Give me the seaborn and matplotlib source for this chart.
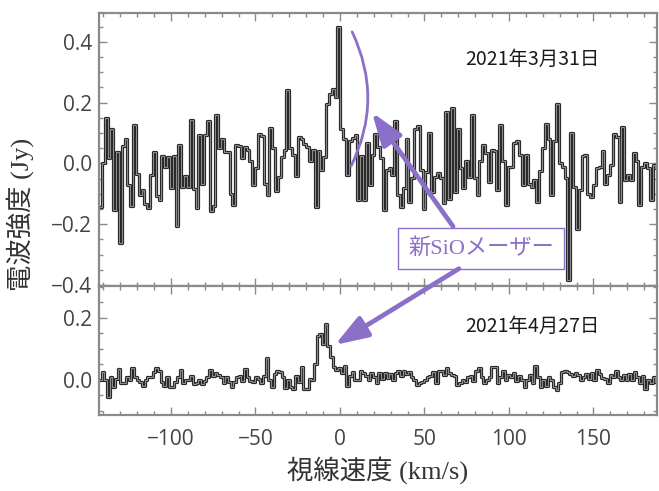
import numpy as np
import pandas as pd
import seaborn as sns
import matplotlib
matplotlib.use('Agg')
import matplotlib.pyplot as plt
import matplotlib.patheffects as pe
from matplotlib.ticker import MultipleLocator

# 2021-03-31 spectrum (Jy), regular channels starting at v0
v0_mar, dv_mar = -142.6, 1.68
flux_mar = [
    -0.143, 0.001, 0.151, 0.018, 0.112, -0.152, 0.037, -0.260, 0.057, 0.079,
    -0.071, -0.141, 0.127, -0.034, -0.104, -0.086, -0.132, -0.146, -0.038, 0.037,
    -0.107, -0.121, 0.026, -0.013, 0.020, -0.082, 0.026, -0.207, 0.060, -0.077,
    -0.041, -0.077, 0.143, -0.084, -0.146, 0.093, -0.069, 0.093, 0.140, -0.157,
    -0.140, 0.160, 0.051, 0.081, 0.037, 0.037, -0.099, -0.138,
    0.062, 0.057, 0.018, 0.053, 0.046, 0.007, -0.071, -0.016, 0.098, 0.090,
    -0.066, -0.104, 0.118, 0.051, -0.091, -0.043, 0.020, 0.046, 0.242, 0.051,
    0.029, -0.040, 0.088, 0.079, 0.064, 0.053, 0.007, 0.046, -0.143, 0.040,
    -0.021, 0.020, 0.196, 0.229, 0.246, 0.218, 0.449, 0.112, 0.082, -0.038,
    0.073, 0.084, 0.093, -0.121, 0.023, -0.121, 0.066, -0.071,
    0.029, 0.096, 0.053, 0.018, -0.154, -0.021, -0.016, -0.038, 0.140, -0.104,
    -0.143, -0.082, 0.079, -0.127, -0.049, 0.112, 0.123, -0.021, -0.149, -0.027,
    0.101, -0.093, -0.043, -0.032, -0.049, -0.130, 0.168, -0.116, 0.182, -0.093,
    0.112, -0.016, -0.082, 0.007, -0.043, 0.159, -0.049, -0.104, 0.007, 0.062,
    0.034, -0.060, 0.046, 0.040, -0.088, 0.127, 0.007,
    -0.138, -0.010, -0.010, 0.068, 0.073, 0.029, -0.071, 0.029, -0.069, -0.077,
    -0.054, -0.127, -0.024, 0.051, 0.129, 0.079, -0.104, 0.073, 0.196, 0.001,
    -0.010, -0.049, -0.382, 0.101, -0.077, -0.216, -0.088, 0.023, 0.029, -0.099,
    -0.110, -0.071, -0.016, -0.010, 0.040, -0.066, -0.038, -0.004, 0.096, 0.087,
    -0.127, 0.120, -0.054, -0.038, -0.054, 0.034, 0.009, -0.138, -0.010, 0.001,
    -0.016, -0.121, -0.004, -0.016,
]

# 2021-04-27 spectrum (Jy)
v0_apr, dv_apr = -142.6, 1.59
flux_apr = [
    0.000, 0.027, 0.000, -0.054, 0.011, -0.022, 0.002, 0.034, -0.009, -0.009,
    0.009, 0.000, 0.038, 0.011, 0.000, -0.005, -0.019, 0.000, 0.009, 0.009,
    0.027, 0.038, 0.030, -0.005, -0.019, 0.011, -0.024, -0.024, -0.005, 0.009,
    0.032, -0.011, 0.000, 0.000, 0.013, -0.013, -0.009, 0.000, -0.013, -0.002,
    0.011, 0.032, 0.013, 0.022, 0.016, 0.009, -0.009, 0.009, -0.005, -0.024,
    -0.005, 0.009, 0.013, -0.002, 0.034, 0.011, -0.002, -0.005, 0.009, 0.002,
    -0.009, 0.013, 0.070, 0.000, -0.024, 0.019, 0.030, 0.027, 0.009, -0.027,
    0.000, -0.024, -0.030, 0.013, -0.005, 0.043, -0.030, -0.030, 0.002, 0.000,
    0.052, 0.142, 0.148, 0.116, 0.181, 0.108, 0.073, 0.043, 0.032, 0.038,
    0.022, 0.045, -0.019, 0.013, 0.027, 0.000, 0.000, 0.030, 0.024, 0.013,
    0.000, 0.024, 0.009, -0.009,
    0.024, 0.002, 0.024, 0.005, 0.019, 0.000, 0.022, 0.030, 0.013, 0.030,
    0.019, 0.027, 0.009, 0.000, -0.016, -0.011, -0.005, 0.000, 0.009, 0.013,
    0.027, -0.009, 0.030, 0.030, 0.016, 0.038, 0.022, 0.016, 0.013, -0.016,
    -0.011, 0.000, -0.005, 0.009, 0.013, -0.002, 0.030, 0.038, 0.011, -0.009,
    0.000, 0.011, 0.043, 0.041, -0.011, 0.009, 0.030, 0.000, 0.016, 0.011,
    0.024, -0.002, 0.013, 0.000, -0.024, 0.000, 0.016, -0.011, 0.045, 0.011,
    -0.024, 0.000, -0.019, 0.011, 0.000, -0.024, -0.032, -0.011, 0.027, 0.030,
    0.027, 0.019, 0.013, 0.024, 0.016, 0.000, 0.009, 0.019, 0.002, 0.024,
    0.000, 0.032, 0.019, 0.005, 0.002, -0.009, 0.016, 0.011, 0.030, 0.011,
    0.000, 0.016, 0.000, 0.019, 0.000, 0.027, 0.009, -0.009, 0.013, -0.030,
    0.000, -0.011, 0.009, -0.005,
]

xticks = [-100, -50, 0, 50, 100, 150]
date_mar = '2021年3月31日'
date_apr = '2021年4月27日'
maser_label = '新SiOメーザー'

df_mar = pd.DataFrame({'v': v0_mar + dv_mar * (np.arange(len(flux_mar)) + 0.5), 'flux': flux_mar})
df_apr = pd.DataFrame({'v': v0_apr + dv_apr * (np.arange(len(flux_apr)) + 0.5), 'flux': flux_apr})

sns.set_theme(style='ticks')
plt.rcParams['font.family'] = ['Open Sans', 'DejaVu Sans']
plt.rcParams['axes.unicode_minus'] = True

purple = '#8b6fc8'
spine_c = '#8a8a8a'
serif_cjk = ['Liberation Serif', 'Noto Sans CJK JP']

fig = plt.figure(figsize=(6.59, 4.91), dpi=100)
W, H = 659, 491
ax_top = fig.add_axes([99 / W, 1 - 286 / H, 558 / W, 273 / H])
ax_bot = fig.add_axes([99 / W, 1 - 415 / H, 558 / W, 129 / H])

line_kw = dict(drawstyle='steps-mid', color='#8c8c8c', lw=0.9, estimator=None,
               path_effects=[pe.Stroke(linewidth=2.3, foreground='#1c1c1c'), pe.Normal()])
sns.lineplot(data=df_mar, x='v', y='flux', ax=ax_top, **line_kw)
sns.lineplot(data=df_apr, x='v', y='flux', ax=ax_bot, **line_kw)

for ax in (ax_top, ax_bot):
    ax.set_xlim(-142.6, 187.6)
    ax.set_xlabel('')
    ax.set_ylabel('')
    ax.xaxis.set_major_locator(MultipleLocator(50))
    ax.xaxis.set_minor_locator(MultipleLocator(10))
    ax.yaxis.set_major_locator(MultipleLocator(0.2))
    ax.yaxis.set_minor_locator(MultipleLocator(0.05))
    ax.tick_params(which='both', direction='in', top=True, right=True, color=spine_c,
                   labelcolor='#444444', labelsize=15, width=1.0)
    ax.tick_params(which='major', length=6)
    ax.tick_params(which='minor', length=3)
    for s in ax.spines.values():
        s.set_color(spine_c)
        s.set_linewidth(1.6)

ax_top.set_ylim(-0.403, 0.495)
ax_bot.set_ylim(-0.113, 0.303)
ax_top.tick_params(axis='x', labelbottom=False)
ax_bot.set_xticks(xticks)
ax_bot.tick_params(axis='x', pad=10)
ax_top.tick_params(axis='y', pad=5)
ax_bot.tick_params(axis='y', pad=5)
ax_top.set_yticks([-0.4, -0.2, 0.0, 0.2, 0.4])
ax_top.set_yticklabels(['\u22120.4', '\u22120.2', '0.0', '0.2', '0.4'])
ax_bot.set_yticks([0.0, 0.2])
ax_bot.set_yticklabels(['0.0', '0.2'])

# dates
ax_top.text(74, 0.342, date_mar, ha='left', va='center', fontsize=14,
            color='#1a1a1a', family=['Noto Sans CJK JP', 'DejaVu Sans'])
ax_bot.text(74, 0.174, date_apr, ha='left', va='center', fontsize=14,
            color='#1a1a1a', family=['Noto Sans CJK JP', 'DejaVu Sans'])

# bracket around the peak
ax_top.annotate('', xy=(5.9, -0.016), xytext=(6.5, 0.441),
                arrowprops=dict(arrowstyle='-', color=purple, lw=2.0,
                                connectionstyle='arc3,rad=-0.25'), zorder=4)

# label box and arrows
ax_top.text(83.4, -0.28, maser_label, ha='center', va='center', fontsize=16,
            color=purple, family=serif_cjk, zorder=6,
            bbox=dict(boxstyle='square,pad=0.45', fc='white', ec=purple, lw=1.0))
arrow_kw = dict(arrowstyle='-|>,head_length=1.0,head_width=0.35', color=purple,
                lw=3.4, mutation_scale=20, shrinkA=0, shrinkB=0)
ax_top.annotate('', xy=(18.9, 0.168), xytext=(66.9, -0.207), arrowprops=arrow_kw, zorder=5)
ax_bot.annotate('', xy=(-3.0, 0.113), xycoords='data',
                xytext=(70.4, -0.346), textcoords=ax_top.transData,
                arrowprops=arrow_kw, annotation_clip=False, zorder=5)

# axis labels
fig.text(20 / W, 1 - 214 / H, '電波強度 (Jy)', rotation=90, ha='center', va='center',
         fontsize=19, color='#333333', family=serif_cjk)
fig.text(378 / W, 1 - 470 / H, '視線速度 (km/s)', ha='center', va='center',
         fontsize=19, color='#333333', family=serif_cjk)

fig.savefig('out.png', dpi=100, facecolor='white')
